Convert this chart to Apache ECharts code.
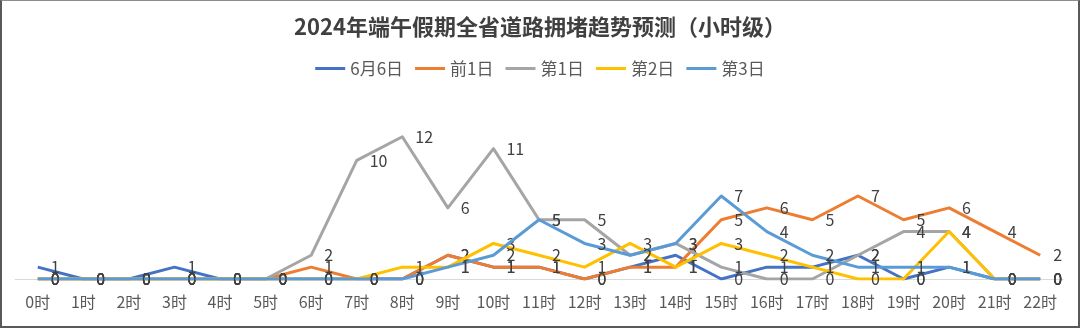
<!DOCTYPE html>
<html>
<head>
<meta charset="utf-8">
<script src="https://cdn.jsdelivr.net/npm/echarts@6/dist/echarts.min.js"></script>
<style>
html,body{margin:0;padding:0;background:#fff;}
#c{position:absolute;left:0;top:0;width:1080px;height:329px;}
#b{position:absolute;left:0;top:0;width:1076px;height:325px;border-top:1px solid #8c8c8c;border-left:2px solid #595959;border-right:2px solid #595959;border-bottom:2px solid #595959;pointer-events:none;}
</style>
</head>
<body>
<div id="c"></div>
<div id="b"></div>
<script>
var categories = ['0时','1时','2时','3时','4时','5时','6时','7时','8时','9时','10时','11时','12时','13时','14时','15时','16时','17时','18时','19时','20时','21时','22时'];
var seriesNames = ['6月6日','前1日','第1日','第2日','第3日'];
var d0606 = [1,0,0,1,0,0,0,0,0,2,1,1,0,1,2,0,1,1,2,0,1,0,0];
var dPrev1 = [0,0,0,0,0,0,1,0,0,2,1,1,0,1,1,5,6,5,7,5,6,4,2];
var dDay1 = [0,0,0,0,0,0,2,10,12,6,11,5,5,2,3,1,0,0,2,4,4,0,0];
var dDay2 = [0,0,0,0,0,0,0,0,1,1,3,2,1,3,1,3,2,1,0,0,4,0,0];
var dDay3 = [0,0,0,0,0,0,0,0,0,1,2,5,3,2,3,7,4,2,1,1,1,0,0];
var colors = ['#4472C4','#ED7D31','#A5A5A5','#FFC000','#5B9BD5'];
var allData = [d0606, dPrev1, dDay1, dDay2, dDay3];

var chart = echarts.init(document.getElementById('c'), null, {renderer:'canvas'});
var font = '"Noto Sans CJK SC", "Noto Sans", sans-serif';
var series = seriesNames.map(function(n,i){
  return {
    name: n,
    type: 'line',
    data: allData[i],
    symbol: 'circle',
    symbolSize: 0,
    showSymbol: true,
    lineStyle: {width: 3, color: colors[i], join: 'round'},
    itemStyle: {color: colors[i]},
    label: {show: true, position: 'right', distance: 13, color: '#404040', fontSize: 16, fontFamily: font},
    emphasis: {disabled: true},
    animation: false,
    z: 2 + i
  };
});
chart.setOption({
  animation: false,
  title: {
    text: '2024年端午假期全省道路拥堵趋势预测（小时级）',
    left: 'center', top: 11,
    textStyle: {fontSize: 22, fontWeight: 'bold', color: '#404040', fontFamily: font}
  },
  legend: {
    top: 55, left: 'center',
    icon: 'rect', itemWidth: 30, itemHeight: 3, itemGap: 12,
    textStyle: {fontSize: 17, color: '#595959', fontFamily: font},
    data: seriesNames
  },
  grid: {left: 15, right: 17, top: 113, bottom: 50},
  xAxis: {
    type: 'category', data: categories, boundaryGap: true,
    axisLine: {lineStyle: {color: '#d9d9d9', width: 1}},
    axisTick: {show: false},
    axisLabel: {fontSize: 16, color: '#595959', margin: 15, fontFamily: font, interval: 0}
  },
  yAxis: {type: 'value', min: 0, max: 14, show: false, splitLine: {show: false}},
  series: series
});
</script>
</body>
</html>
